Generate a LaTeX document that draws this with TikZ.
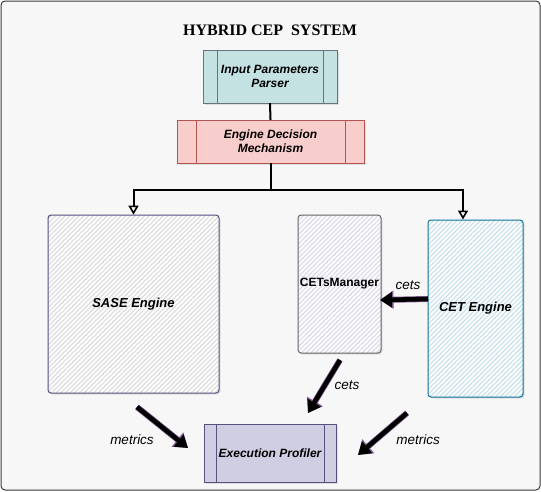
\documentclass[tikz,border=0pt]{standalone}
\usepackage{fontspec}
\setmainfont{Liberation Serif}
\newfontfamily\arialfont{Liberation Sans}
\usepackage{tikz}
\usetikzlibrary{arrows.meta, positioning, calc, patterns.meta, shadows}
\definecolor{cepframe}{RGB}{54,57,61}
\definecolor{cepbg}{RGB}{247,247,247}
\definecolor{cepteal}{RGB}{197,226,226}
\definecolor{ceptealdk}{RGB}{100,118,120}
\definecolor{ceppink}{RGB}{248,206,204}
\definecolor{ceppinkdk}{RGB}{184,84,80}
\definecolor{ceplav}{RGB}{208,206,226}
\definecolor{ceplavdk}{RGB}{86,81,126}
\definecolor{cephatchgray}{RGB}{212,212,216}
\definecolor{cephatchlav}{RGB}{208,208,236}
\definecolor{cephatchblue}{RGB}{182,219,232}
\definecolor{cepblue}{RGB}{16,115,158}
\definecolor{cepmgr}{RGB}{102,102,102}
\definecolor{ceppurple}{RGB}{128,90,150}
\newcommand{\boxfont}{\arialfont\fontsize{12}{14}\selectfont}
\newcommand{\bigboxfont}{\arialfont\fontsize{13}{15}\selectfont}

\tikzset{
  cepbox/.style={inner sep=0pt, align=center, font=\boxfont\bfseries\itshape,
    drop shadow={shadow xshift=1.5pt, shadow yshift=-1.5pt, opacity=0.2}},
  hatchbox/.style={cepbox, rounded corners=3pt, line width=1pt,
    preaction={fill=white!97!gray},
    pattern={Lines[angle=45, distance=3.3pt, line width=0.75pt]}, pattern color=#1},
  fatarrow/.style={line width=4.6pt, -{Triangle[length=12pt, width=15pt]},
    preaction={draw=ceppurple, line width=6pt, -{Triangle[length=13.5pt, width=17.5pt]}}},
  lbl/.style={font=\arialfont\fontsize{13.5}{15}\selectfont\itshape, inner sep=0pt},
}

\begin{document}
\begin{tikzpicture}[x=1pt, y=-1pt]
\useasboundingbox (0,0) rectangle (541,491);
% outer frame
\draw[cepframe, fill=cepbg, line width=1pt, rounded corners=4pt] (1,1) rectangle (540,490);

% title
\node[font=\fontsize{16}{18}\selectfont\bfseries] (title) at (270,30) {HYBRID CEP\ \ SYSTEM};

% ---- parser + decision ----
\node[cepbox, draw=ceptealdk, fill=cepteal, minimum width=134pt, minimum height=53pt] (parser) at (270,76.5)
  {Input Parameters\\Parser};
\draw[ceptealdk] ([xshift=14pt]parser.north west) -- ([xshift=14pt]parser.south west);
\draw[ceptealdk] ([xshift=-14pt]parser.north east) -- ([xshift=-14pt]parser.south east);

\node[cepbox, draw=ceppinkdk, fill=ceppink, minimum width=187pt, minimum height=43pt] (decision) at (270.5,141.5)
  {Engine Decision\\Mechanism};
\draw[ceppinkdk] ([xshift=19pt]decision.north west) -- ([xshift=19pt]decision.south west);
\draw[ceppinkdk] ([xshift=-19pt]decision.north east) -- ([xshift=-19pt]decision.south east);

% ---- engines ----
\node[hatchbox=cephatchgray, draw=ceplavdk, minimum width=171pt, minimum height=178pt,
  font=\bigboxfont\bfseries\itshape] (sase) at (133.5,304) {SASE Engine};
\node[hatchbox=cephatchlav, draw=cepmgr, minimum width=83pt, minimum height=138pt,
  font=\boxfont\bfseries] (cetsmgr) at (339.5,284) {CETsManager};
\node[hatchbox=cephatchblue, draw=cepblue, minimum width=95pt, minimum height=177pt,
  font=\bigboxfont\bfseries\itshape] (cet) at (475.5,308.5) {CET Engine};

% ---- profiler ----
\node[cepbox, draw=ceplavdk, fill=ceplav, minimum width=132pt, minimum height=58pt] (profiler) at (270,453)
  {Execution Profiler};
\draw[ceplavdk] ([xshift=12pt]profiler.north west) -- ([xshift=12pt]profiler.south west);
\draw[ceplavdk] ([xshift=-12pt]profiler.north east) -- ([xshift=-12pt]profiler.south east);

% ---- decision fan-out ----
\draw[line width=2pt] (parser.south) -- (decision.north);
\coordinate (split) at ($(decision.south)+(0,27)$);
\coordinate (cetin) at ([xshift=-12.5pt]cet.north);
\draw[line width=2pt] (decision.south) -- (split);
\draw[line width=2pt, -{Triangle[open, length=9pt, width=10pt, line width=1.6pt]}] (split) -| (sase.north);
\draw[line width=2pt, -{Triangle[open, length=9pt, width=10pt, line width=1.6pt]}] (split) -| (cetin);

% ---- fat arrows ----
\coordinate (saseout) at (137,407);
\coordinate (profina) at (188,448);
\coordinate (mgrout) at (340,360);
\coordinate (profinb) at (308,413);
\coordinate (cetout) at (407,413);
\coordinate (profinc) at (358,455);
\coordinate (cetleft) at (428,299);
\coordinate (mgrin) at (380,300);
\draw[fatarrow] (saseout) -- (profina);
\draw[fatarrow] (mgrout) -- (profinb);
\draw[fatarrow] (cetout) -- (profinc);
\draw[fatarrow] (cetleft) -- (mgrin);

% labels
\node[lbl] (lmetricsa) at (132,440) {metrics};
\node[lbl] (lcetsa) at (347,385) {cets};
\node[lbl] (lmetricsb) at (418,440) {metrics};
\node[lbl] (lcetsb) at (408,285) {cets};
\end{tikzpicture}
\end{document}
